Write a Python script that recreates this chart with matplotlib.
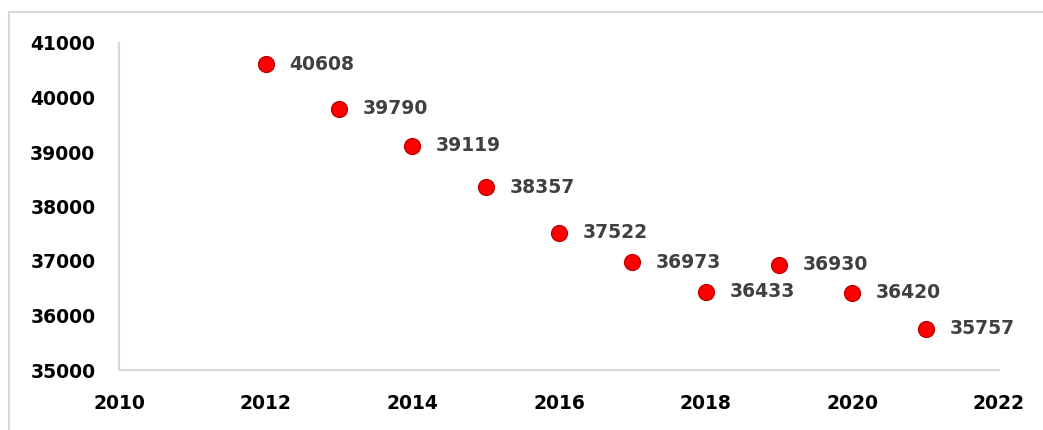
import matplotlib
matplotlib.use('Agg')
import matplotlib.pyplot as plt
from matplotlib.patches import Rectangle

years = [2012, 2013, 2014, 2015, 2016, 2017, 2018, 2019, 2020, 2021]
values = [40608, 39790, 39119, 38357, 37522, 36973, 36433, 36930, 36420, 35757]

fig = plt.figure(figsize=(10.43, 4.3), dpi=100)
# light grey chart frame (right and bottom edges run off the picture)
fig.patches.append(Rectangle((9 / 1043, -0.1), 1.2, (418 - 0) / 430 + 0.1 - 0.0,
                             transform=fig.transFigure, fill=False,
                             edgecolor='#d9d9d9', linewidth=1.5))
ax = fig.add_axes([119 / 1043, 60 / 430, (999 - 119) / 1043, (370 - 43) / 430])

ax.scatter(years, values, s=130, color='#ff0000', edgecolors='#c00000',
           linewidths=1, zorder=3)
for x, y in zip(years, values):
    ax.annotate(str(y), (x, y), xytext=(17, 0), textcoords='offset points',
                va='center', ha='left', fontsize=13.5, fontweight='bold',
                color='#404040')

ax.set_xlim(2010, 2022)
ax.set_ylim(35000, 41000)
ax.set_xticks(range(2010, 2023, 2))
ax.set_yticks(range(35000, 41001, 1000))
ax.tick_params(length=0, labelsize=13.5, colors='black')
ax.tick_params(axis='y', pad=17)
ax.tick_params(axis='x', pad=17)
for lbl in ax.get_xticklabels() + ax.get_yticklabels():
    lbl.set_fontweight('bold')
for s in ['top', 'right']:
    ax.spines[s].set_visible(False)
for s in ['left', 'bottom']:
    ax.spines[s].set_color('#d9d9d9')
    ax.spines[s].set_linewidth(1.5)

fig.savefig('out.png', dpi=100)
